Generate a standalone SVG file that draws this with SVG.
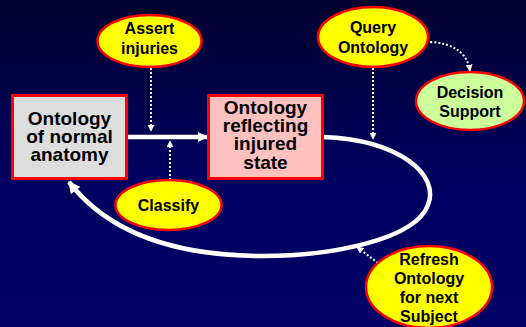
<svg xmlns="http://www.w3.org/2000/svg" width="526" height="327" viewBox="0 0 526 327">
<defs>
<linearGradient id="bg" x1="0" y1="0" x2="0" y2="1">
<stop offset="0" stop-color="#00002e"/>
<stop offset="0.55" stop-color="#000060"/>
<stop offset="1" stop-color="#000066"/>
</linearGradient>
<marker id="bigHead" viewBox="0 0 10 10" refX="9" refY="5" markerWidth="14" markerHeight="10" markerUnits="userSpaceOnUse" orient="auto">
<path d="M0,0 L10,5 L0,10 Z" fill="#fff"/>
</marker>
<marker id="loopHead" viewBox="0 0 10 10" refX="9" refY="5" markerWidth="13" markerHeight="12" markerUnits="userSpaceOnUse" orient="auto">
<path d="M0,0 L10,5 L0,10 Z" fill="#fff"/>
</marker>
<marker id="dotHead" viewBox="0 0 10 10" refX="9" refY="5" markerWidth="7" markerHeight="7" markerUnits="userSpaceOnUse" orient="auto">
<path d="M0,0 L10,5 L0,10 Z" fill="#fff"/>
</marker>
</defs>
<style>
.box{stroke:#ff0000;stroke-width:3}
.ell{stroke:#ff0000;stroke-width:2.5}
.yel{fill:#ffff00}
.grn{fill:#ccff99}
.bt{font-family:"Liberation Sans",Arial,sans-serif;font-weight:bold;font-size:19px;fill:#000;text-anchor:middle}
.et{font-family:"Liberation Sans",Arial,sans-serif;font-weight:bold;font-size:16px;fill:#000;text-anchor:middle}
.solid{fill:none;stroke:#fff;stroke-width:4.5}
.dot{fill:none;stroke:#fff;stroke-width:2;stroke-dasharray:2 2}
</style>
<rect x="0" y="0" width="526" height="327" fill="url(#bg)"/>
<g id="connectors">
<path class="solid" d="M127,137 L207,137" marker-end="url(#bigHead)"/>
<path class="solid" d="M323,137 C400,140 440,175 428,205 C415,240 330,256 263,256 C180,256 110,235 69,182" marker-end="url(#loopHead)"/>
<path class="dot" d="M151,68 L151,131" marker-end="url(#dotHead)"/>
<path class="dot" d="M170,180 L170,141" marker-end="url(#dotHead)"/>
<path class="dot" d="M373,68 L373,139" marker-end="url(#dotHead)"/>
<path class="dot" d="M430,42 Q466,44 470,71" marker-end="url(#dotHead)"/>
<path class="dot" d="M378,263 L357,247" marker-end="url(#dotHead)"/>
</g>
<g id="normal">
<rect class="box" x="12.5" y="95.5" width="114" height="83" fill="#dddddd"/>
<text class="bt" x="69.5" y="124.5">Ontology</text>
<text class="bt" x="69.5" y="142.5">of normal</text>
<text class="bt" x="69.5" y="160.5">anatomy</text>
</g>
<g id="injured">
<rect class="box" x="208.5" y="95.5" width="114" height="83" fill="#ffc0c0"/>
<text class="bt" x="265.5" y="113.5">Ontology</text>
<text class="bt" x="265.5" y="132">reflecting</text>
<text class="bt" x="265.5" y="150">injured</text>
<text class="bt" x="265.5" y="168.5">state</text>
</g>
<g id="assert">
<ellipse class="ell yel" cx="149.5" cy="41" rx="52" ry="26"/>
<text class="et" x="149.5" y="34">Assert</text>
<text class="et" x="149.5" y="54">injuries</text>
</g>
<g id="classify">
<ellipse class="ell yel" cx="168.5" cy="205" rx="53" ry="25"/>
<text class="et" x="168.5" y="211">Classify</text>
</g>
<g id="query">
<ellipse class="ell yel" cx="373" cy="37" rx="55" ry="30"/>
<text class="et" x="373" y="33">Query</text>
<text class="et" x="373" y="53">Ontology</text>
</g>
<g id="decision">
<ellipse class="ell grn" cx="470" cy="101" rx="54" ry="29"/>
<text class="et" x="470" y="98">Decision</text>
<text class="et" x="470" y="117">Support</text>
</g>
<g id="refresh">
<ellipse class="ell yel" cx="429" cy="287" rx="63" ry="41"/>
<text class="et" x="429" y="265">Refresh</text>
<text class="et" x="429" y="284">Ontology</text>
<text class="et" x="429" y="303">for next</text>
<text class="et" x="429" y="322">Subject</text>
</g>
</svg>
